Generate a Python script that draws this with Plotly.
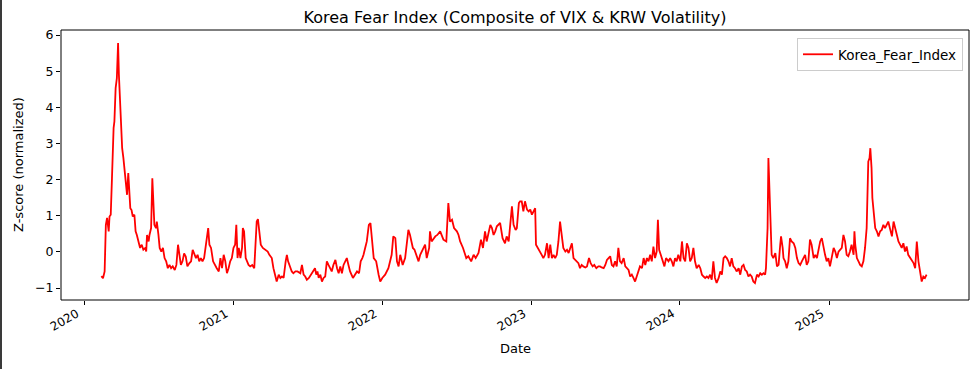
import pandas as pd
import plotly.graph_objects as go

# days since 2020-01-01
day_offset = [
    42, 46, 50, 53, 56, 60, 62, 65, 68, 70, 72, 74, 77, 80, 83, 85, 87, 90, 93, 96,
    99, 102, 105, 108, 110, 113, 116, 119, 123, 126, 129, 133, 137, 141, 145, 150, 152, 154, 158, 160,
    164, 167, 169, 172, 176, 178, 182, 185, 189, 193, 197, 201, 205, 209, 213, 217, 222, 226, 230, 233,
    237, 241, 245, 249, 253, 258, 262, 266, 270, 274, 278, 282, 286, 290, 294, 298, 304, 307, 311, 316,
    320, 325, 330,
    334, 338, 342, 346, 350, 354, 358, 362, 366, 370, 373, 376, 379, 383, 387, 389, 392, 396, 399, 403,
    407, 412, 417, 420, 423, 426, 430, 433, 438, 444, 450, 454, 460, 464, 468, 472, 477, 481, 485, 489,
    494, 497, 500, 505, 509, 513, 518, 523, 530, 534, 538, 542, 546, 551, 556, 561, 566, 569, 572, 575,
    579, 583, 587, 591, 595, 599, 603, 607, 611, 616, 620, 624, 628, 632, 636, 640, 644, 648, 652, 659,
    664, 669, 674, 678, 682, 685, 689, 693, 698, 702,
    710, 716, 722, 726, 731, 738, 746, 754, 758, 763, 767, 771, 775, 781, 787, 795, 799, 806, 810, 816,
    820, 824, 830, 836, 840, 846, 848, 852, 861, 866, 873, 881, 888, 893, 897, 902, 907, 914, 918, 922,
    929, 937, 942, 949, 955, 960, 967, 973, 978, 983, 987, 996, 1000, 1004, 1008, 1012, 1020, 1026, 1032, 1036,
    1041, 1049, 1053, 1058, 1061, 1066, 1069,
    1073, 1077, 1081, 1086, 1090, 1094, 1098, 1102, 1106, 1108, 1114, 1118, 1122, 1126, 1130, 1135, 1139, 1143, 1147, 1151,
    1155, 1159, 1163, 1167, 1171, 1175, 1180, 1184, 1188, 1192, 1196, 1200, 1204, 1208, 1212, 1216, 1220, 1224, 1229, 1233,
    1238, 1242, 1247, 1251, 1256, 1261, 1265, 1269, 1274, 1278, 1282, 1286, 1290, 1294, 1298, 1302, 1306, 1310, 1314, 1318,
    1323, 1327, 1331, 1335, 1339, 1343, 1347, 1351, 1355, 1359, 1363, 1368, 1372, 1376, 1380, 1384, 1388, 1392, 1396, 1400,
    1404, 1407, 1410, 1414, 1419, 1423, 1427, 1433, 1437,
    1441, 1445, 1449, 1453, 1457, 1462, 1466, 1470, 1474, 1478, 1482, 1486, 1490, 1494, 1498, 1502, 1507, 1511, 1515, 1519,
    1523, 1527, 1531, 1535, 1539, 1543, 1547, 1551, 1556, 1560, 1564, 1568, 1572, 1576, 1580, 1584, 1588, 1592, 1596, 1600,
    1605, 1609, 1613, 1617, 1621, 1625, 1629, 1633, 1637, 1641, 1645, 1650, 1654, 1658, 1662, 1666, 1670, 1672, 1676, 1678,
    1681, 1683, 1686, 1690, 1695, 1699, 1703, 1707, 1709, 1713, 1715, 1719, 1723, 1727, 1731, 1735, 1740, 1744, 1748, 1752,
    1756, 1760, 1764, 1768, 1772, 1776, 1780, 1784, 1789, 1793, 1797, 1801, 1805,
    1809, 1813, 1817, 1821, 1825, 1829, 1833, 1838, 1842, 1846, 1850, 1854, 1858, 1862, 1866, 1870, 1874, 1878, 1882, 1887,
    1889, 1891, 1895, 1899, 1903, 1907, 1911, 1915, 1919, 1923, 1926, 1928, 1931, 1933, 1936, 1940, 1944, 1948, 1952, 1956,
    1960, 1964, 1968, 1972, 1977, 1981, 1985, 1989, 1993, 1997, 2001, 2005, 2009, 2013, 2017, 2021, 2026, 2030, 2034, 2038,
    2042, 2046, 2050, 2054, 2058, 2062, 2066,
]

korea_fear_index = [
    -0.67, -0.73, -0.54, 0.75, 0.94, 0.57, 0.98, 1.03, 2.04, 3.01, 3.43, 3.61, 4.53, 4.81, 5.78, 4.90, 4.35, 3.33, 2.87, 2.60,
    2.23, 1.86, 1.58, 2.18, 1.68, 1.21, 1.16, 0.98, 1.03, 0.57, 0.47, 0.29, 0.11, 0.20, 0.06, 0.11, 0.01, 0.47, 0.29, 0.47,
    0.66, 2.04, 1.40, 0.75, 0.66, 0.84, 0.47, 0.11, 0.01, 0.11, -0.17, -0.26, -0.45, -0.36, -0.45, -0.40, -0.50, -0.36, 0.20, -0.08,
    -0.36, -0.26, -0.04, -0.13, -0.40, -0.31, -0.26, 0.06, -0.08, -0.17, -0.08, -0.26, -0.17, -0.26, -0.17, 0.20, 0.66, 0.20, 0.11, -0.26,
    -0.36, -0.45, -0.54,
    -0.17, -0.45, -0.08, -0.26, -0.59, -0.45, -0.26, -0.17, 0.11, 0.20, 0.75, -0.17, 0.11, -0.17, 0.11, 0.66, 0.57, -0.17, -0.26, -0.36,
    -0.40, -0.36, -0.45, 0.29, 0.84, 0.91, 0.57, 0.20, 0.11, 0.06, 0.01, -0.08, -0.17, -0.45, -0.63, -0.82, -0.63, -0.72, -0.68, -0.72,
    -0.26, -0.08, -0.26, -0.45, -0.54, -0.59, -0.54, -0.54, -0.59, -0.36, -0.63, -0.68, -0.77, -0.72, -0.63, -0.54, -0.45, -0.63, -0.54, -0.72,
    -0.63, -0.82, -0.72, -0.68, -0.26, -0.36, -0.45, -0.54, -0.36, -0.22, -0.45, -0.59, -0.40, -0.59, -0.36, -0.26, -0.17, -0.36, -0.54, -0.72,
    -0.63, -0.54, -0.59, -0.26, -0.17, -0.08, 0.11, 0.29, 0.75, 0.80,
    -0.17, -0.26, -0.63, -0.82, -0.72, -0.63, -0.45, -0.08, 0.43, 0.38, -0.26, -0.40, -0.08, -0.36, -0.17, 0.61, 0.47, 0.11, 0.06, -0.17,
    -0.26, -0.08, 0.06, 0.20, -0.17, 0.11, 0.57, 0.29, 0.43, 0.47, 0.57, 0.34, 0.29, 1.35, 0.84, 0.89, 0.66, 0.57, 0.47, 0.29,
    0.11, -0.17, -0.12, -0.26, -0.08, -0.17, -0.03, 0.34, 0.11, 0.57, 0.29, 0.75, 0.66, 0.47, 0.57, 0.71, 0.80, 0.38, 0.24, 0.43,
    0.29, 1.26, 0.75, 0.61, 0.66, 1.35, 1.40,
    1.40, 1.12, 1.40, 1.17, 1.12, 1.17, 1.03, 1.12, 1.21, 0.20, 0.06, 0.01, -0.08, -0.17, -0.08, 0.24, -0.17, 0.20, -0.17, -0.08,
    -0.17, -0.08, 0.29, 0.84, 0.47, 0.11, 0.01, 0.06, -0.03, 0.11, 0.24, -0.17, -0.22, -0.26, -0.31, -0.45, -0.36, -0.40, -0.43, -0.40,
    -0.17, -0.31, -0.40, -0.36, -0.45, -0.40, -0.40, -0.43, -0.45, -0.36, -0.22, -0.17, -0.12, -0.36, -0.40, -0.26, -0.40, 0.11, -0.26, -0.31,
    -0.17, -0.40, -0.45, -0.50, -0.68, -0.63, -0.72, -0.82, -0.68, -0.50, -0.40, -0.45, -0.17, -0.36, -0.17, -0.26, -0.08, -0.26, 0.15, -0.17,
    0.01, 0.89, 0.06, -0.08, -0.26, -0.40, -0.17, -0.26, -0.17,
    -0.26, -0.40, -0.17, -0.26, -0.08, -0.26, 0.29, -0.17, -0.26, 0.24, 0.11, -0.26, -0.17, 0.11, -0.26, -0.45, -0.36, -0.45, -0.63, -0.68,
    -0.72, -0.68, -0.72, -0.63, -0.77, -0.26, -0.72, -0.86, -0.72, -0.54, -0.63, -0.17, -0.12, -0.17, -0.26, -0.40, -0.17, -0.40, -0.45, -0.54,
    -0.45, -0.63, -0.40, -0.36, -0.50, -0.54, -0.68, -0.63, -0.68, -0.82, -0.86, -0.63, -0.68, -0.59, -0.63, -0.59, -0.63, -0.45, 0.66, 2.60,
    1.58, 0.66, -0.08, -0.17, -0.03, -0.40, -0.36, 0.20, 0.43, 0.11, -0.17, -0.26, -0.45, -0.26, 0.38, 0.29, 0.24, 0.11, -0.17, -0.31,
    -0.36, -0.26, -0.17, -0.08, -0.36, -0.26, 0.34, 0.20, -0.17, -0.08, -0.17, 0.11, 0.29,
    0.38, 0.11, -0.08, -0.26, -0.17, -0.40, -0.17, 0.11, 0.01, -0.17, 0.01, 0.06, 0.11, 0.47, 0.29, -0.08, -0.12, 0.01, 0.20, -0.08,
    0.57, 0.20, -0.17, -0.26, -0.36, -0.40, -0.26, 0.11, 0.66, 2.50, 2.60, 2.87, 2.32, 1.49, 1.03, 0.66, 0.57, 0.43, 0.57, 0.61,
    0.75, 0.66, 0.75, 0.84, 0.61, 0.43, 0.84, 0.66, 0.52, 0.29, 0.20, 0.11, 0.24, 0.01, 0.15, -0.08, -0.17, -0.26, -0.31, -0.45,
    0.29, -0.26, -0.59, -0.82, -0.68, -0.72, -0.63,
]

year_ticks = ["2020", "2021", "2022", "2023", "2024", "2025"]
y_ticks = [-1, 0, 1, 2, 3, 4, 5, 6]

dates = pd.Timestamp("2020-01-01") + pd.to_timedelta(day_offset, unit="D")

W, H = 980, 369
L, R, T, B = 61, 11, 30, 69
PW, PH = W - L - R, H - T - B

fig = go.Figure()
fig.add_trace(go.Scatter(
    x=dates, y=korea_fear_index, mode="lines", name="Korea_Fear_Index",
    line=dict(color="#ff0000", width=1.8),
))

axis_common = dict(
    showline=False, ticks="outside", ticklen=4, tickcolor="black", tickwidth=1,
    showgrid=False, zeroline=False,
    tickfont=dict(size=12.5, color="black"),
)

annotations = []
for yr in year_ticks:
    annotations.append(dict(
        x=f"{yr}-01-01", xref="x", y=0, yref="paper", yshift=-3,
        text=yr, showarrow=False, textangle=-30,
        xanchor="right", yanchor="top",
        font=dict(size=12, color="black"),
    ))
annotations.append(dict(
    x=0.5, xref="paper", y=0, yref="paper", yshift=-48,
    text="Date", showarrow=False, xanchor="center", yanchor="middle",
    font=dict(size=13, color="black"),
))
annotations.append(dict(
    x=0, xref="paper", xshift=-(L - 18), y=0.5, yref="paper",
    text="Z-score (normalized)", showarrow=False, textangle=-90,
    xanchor="center", yanchor="middle",
    font=dict(size=13, color="black"),
))

shapes = [
    dict(type="rect", xref="paper", yref="paper", x0=0, x1=1, y0=0, y1=1,
         line=dict(color="black", width=1), fillcolor="rgba(0,0,0,0)", layer="above"),
    dict(type="rect", xref="paper", yref="paper",
         x0=-L / PW, x1=-(L - 2) / PW, y0=-B / PH, y1=1 + T / PH,
         line=dict(width=0), fillcolor="#3a3a3a", layer="above"),
]

fig.update_layout(
    width=W, height=H,
    margin=dict(l=L, r=R, t=T, b=B),
    paper_bgcolor="white", plot_bgcolor="white",
    font=dict(family="DejaVu Sans", color="black"),
    title=dict(text="Korea Fear Index (Composite of VIX & KRW Volatility)",
               x=0.5, xref="paper", xanchor="center",
               y=1 - 17.5 / H, yref="container", yanchor="middle",
               font=dict(size=16, color="black")),
    xaxis=dict(
        **axis_common,
        range=["2019-11-05", "2025-12-10"],
        tickvals=[f"{y}-01-01" for y in year_ticks], showticklabels=False,
    ),
    yaxis=dict(
        **axis_common,
        range=[-1.33, 6.14],
        tickvals=y_ticks, ticktext=[str(v).replace("-", "\u2212") for v in y_ticks],
    ),
    legend=dict(
        x=1 - 6 / PW, y=1 - 8 / PH, xanchor="right", yanchor="top",
        bgcolor="rgba(255,255,255,0.8)", bordercolor="#cccccc", borderwidth=1,
        font=dict(size=13.5, color="black"),
    ),
    showlegend=True,
    annotations=annotations,
    shapes=shapes,
)

fig.write_html(
    "out.html",
    config={"displayModeBar": False},
    post_script="document.body.style.margin='0';document.body.style.overflow='hidden';",
)
